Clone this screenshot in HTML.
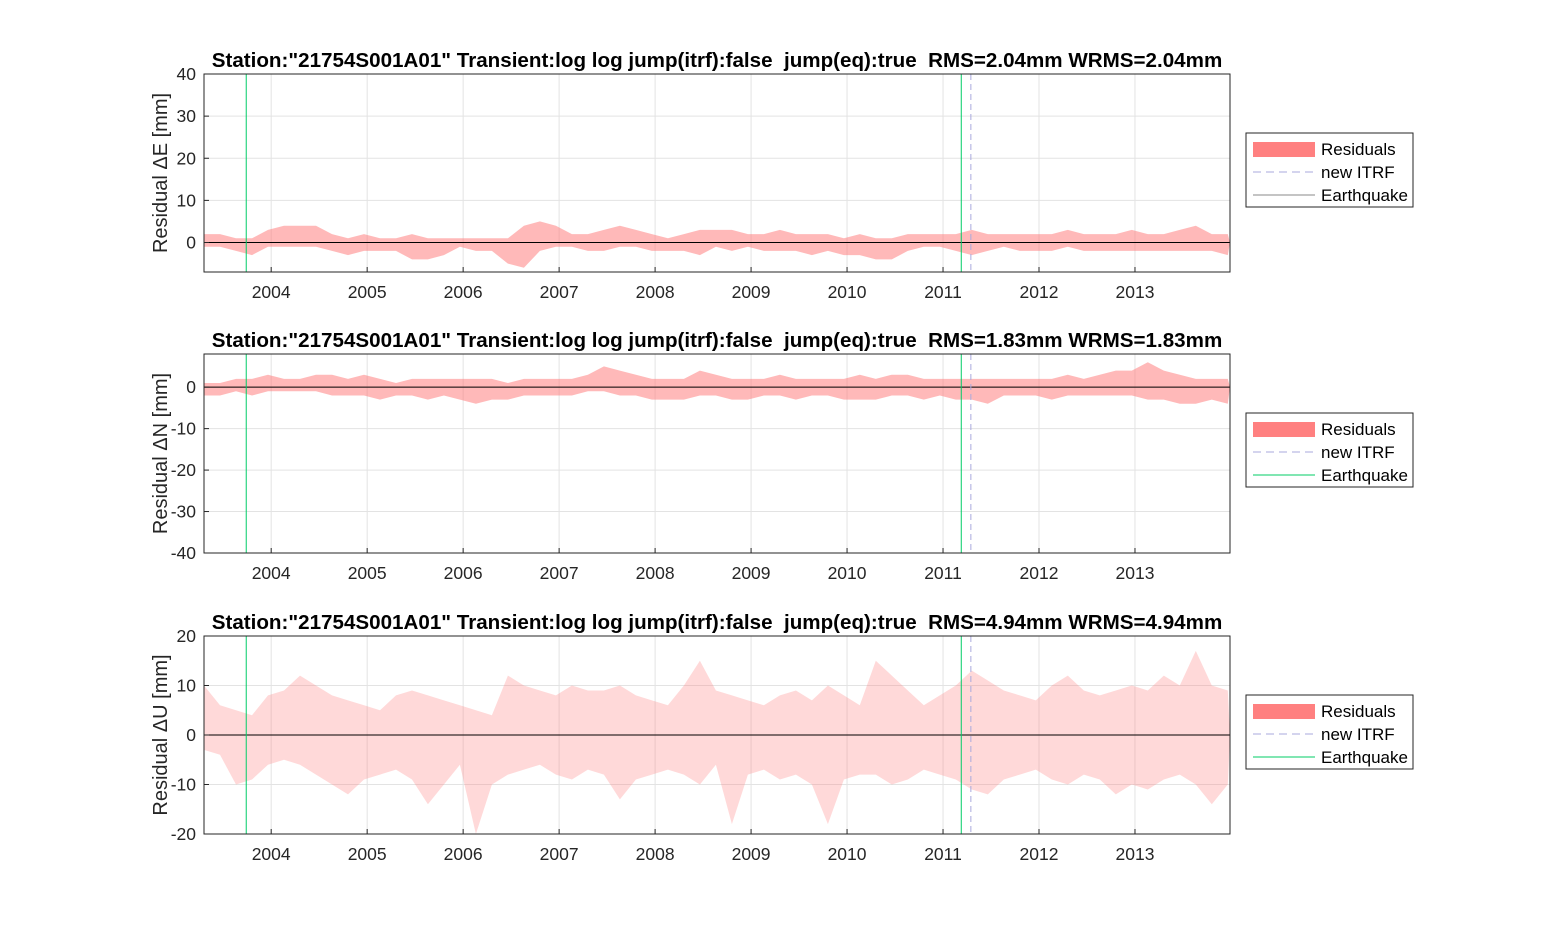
<!DOCTYPE html>
<html><head><meta charset="utf-8"><style>
html,body{margin:0;padding:0;background:#fff;}
svg{display:block;font-family:"Liberation Sans",Arial,sans-serif;}
text{white-space:pre;}
</style></head><body>
<svg id="fig" width="1563" height="938" viewBox="0 0 1563 938"></svg>
<script>
// ---- data ----
const xStart = 2003.3, xEnd = 2013.99;
const sampleStep = 1/6;
const yearTicks = [2004,2005,2006,2007,2008,2009,2010,2011,2012,2013];
const eqEvents = [2003.74, 2011.19];
const itrfEvents = [2011.29];
const titles = [
 'Station:"21754S001A01" Transient:log log jump(itrf):false  jump(eq):true  RMS=2.04mm WRMS=2.04mm',
 'Station:"21754S001A01" Transient:log log jump(itrf):false  jump(eq):true  RMS=1.83mm WRMS=1.83mm',
 'Station:"21754S001A01" Transient:log log jump(itrf):false  jump(eq):true  RMS=4.94mm WRMS=4.94mm'];
const yLabels = ['Residual \u0394E [mm]','Residual \u0394N [mm]','Residual \u0394U [mm]'];
const yTicksE = [0,10,20,30,40];
const yTicksN = [-40,-30,-20,-10,0];
const yTicksU = [-20,-10,0,10,20];
const eMax = [2,2,1,1,3,4,4,4,2,1,2,1,1,2,1,1,1,1,1,1,4,5,4,2,2,3,4,3,2,1,2,3,3,3,2,2,3,2,2,2,1,2,1,1,2,2,2,2,3,2,2,2,2,2,3,2,2,2,3,2,2,3,4,2,2];
const eMin = [-1,-1,-2,-3,-1,-1,-1,-1,-2,-3,-2,-2,-2,-4,-4,-3,-1,-2,-2,-5,-6,-2,-1,-1,-2,-2,-1,-1,-2,-2,-2,-3,-1,-2,-1,-2,-2,-2,-3,-2,-3,-3,-4,-4,-2,-1,-1,-2,-3,-2,-1,-2,-2,-2,-1,-2,-2,-2,-2,-2,-2,-2,-2,-2,-3];
const nMax = [1,1,2,2,3,2,2,3,3,2,3,2,1,2,2,2,2,2,2,1,2,2,2,2,3,5,4,3,2,2,2,4,3,2,2,2,3,2,2,2,2,3,2,3,3,2,2,2,2,2,2,2,2,2,3,2,3,4,4,6,4,3,2,2,2];
const nMin = [-2,-2,-1,-2,-1,-1,-1,-1,-2,-2,-2,-3,-2,-2,-3,-2,-3,-4,-3,-3,-2,-2,-2,-2,-1,-1,-2,-2,-3,-3,-3,-2,-2,-3,-3,-2,-2,-3,-2,-2,-3,-3,-3,-2,-2,-3,-2,-3,-3,-4,-2,-2,-2,-3,-2,-2,-2,-2,-2,-3,-3,-4,-4,-3,-4];
const uMax = [10,6,5,4,8,9,12,10,8,7,6,5,8,9,8,7,6,5,4,12,10,9,8,10,9,9,10,8,7,6,10,15,9,8,7,6,8,9,7,10,8,6,15,12,9,6,8,10,13,11,9,8,7,10,12,9,8,9,10,9,12,10,17,10,9];
const uMin = [-3,-4,-10,-9,-6,-5,-6,-8,-10,-12,-9,-8,-7,-9,-14,-10,-6,-20,-10,-8,-7,-6,-8,-9,-7,-8,-13,-9,-8,-7,-8,-10,-6,-18,-8,-7,-9,-8,-10,-18,-9,-8,-8,-10,-9,-7,-8,-9,-11,-12,-9,-8,-7,-9,-10,-8,-9,-12,-10,-11,-9,-8,-10,-14,-10];

const panels = [
 {top:74,bottom:272,ymin:-7,ymax:40,ticks:yTicksE,max:eMax,min:eMin,eqColor:'#00cc66',legEq:'#888888',op:0.55,name:'east'},
 {top:354,bottom:553,ymin:-40,ymax:8,ticks:yTicksN,max:nMax,min:nMin,eqColor:'#00cc66',legEq:'#00cc66',op:0.55,name:'north'},
 {top:636,bottom:834,ymin:-20,ymax:20,ticks:yTicksU,max:uMax,min:uMin,eqColor:'#00cc66',legEq:'#00cc66',op:0.3,name:'up'}];
const X0=204, X1=1230;
const svg=document.getElementById('fig');
const NS='http://www.w3.org/2000/svg';
function mk(tag,attrs,parent){const e=document.createElementNS(NS,tag);for(const k in attrs)e.setAttribute(k,attrs[k]);(parent||svg).appendChild(e);return e;}
const xs=t=>X0+(t-xStart)/(xEnd-xStart)*(X1-X0);

panels.forEach((p,pi)=>{
 const ys=v=>p.bottom-(v-p.ymin)/(p.ymax-p.ymin)*(p.bottom-p.top);
 const g=mk('g',{});
 
 
 mk('rect',{x:X0,y:p.top,width:X1-X0,height:p.bottom-p.top,fill:'#fff'},g);
 yearTicks.forEach(yr=>{mk('line',{x1:xs(yr),x2:xs(yr),y1:p.top,y2:p.bottom,stroke:'#e3e3e3','stroke-width':1},g);});
 p.ticks.forEach(v=>{mk('line',{x1:X0,x2:X1,y1:ys(v),y2:ys(v),stroke:'#e3e3e3','stroke-width':1},g);});
 const n=p.max.length;
 let d='M'+xs(xStart)+','+ys(0);
 for(let i=0;i<n;i++){d+=' L'+xs(Math.min(xStart+i*sampleStep,xEnd)).toFixed(1)+','+ys(p.max[i]).toFixed(1);}
 d+=' L'+xs(xEnd)+','+ys(0);
 for(let i=n-1;i>=0;i--){d+=' L'+xs(Math.min(xStart+i*sampleStep,xEnd)).toFixed(1)+','+ys(p.min[i]).toFixed(1);}
 d+=' Z';
 const area=mk('path',{d:d,fill:'#ff8080','fill-opacity':p.op,stroke:'none'},g);
 
 
 mk('line',{x1:X0,x2:X1,y1:ys(0),y2:ys(0),stroke:'#000','stroke-width':1},g);
 eqEvents.forEach(t=>{const l=mk('line',{x1:xs(t),x2:xs(t),y1:p.top,y2:p.bottom,stroke:p.eqColor,'stroke-width':1},g);
  
  });
 itrfEvents.forEach(t=>{const l=mk('line',{x1:xs(t),x2:xs(t),y1:p.top,y2:p.bottom,stroke:'#aaaadd','stroke-width':1,'stroke-dasharray':'6,4'},g);
  
  });
 mk('rect',{x:X0,y:p.top,width:X1-X0,height:p.bottom-p.top,fill:'none',stroke:'#262626','stroke-width':1},g);
 yearTicks.forEach(yr=>{
  mk('line',{x1:xs(yr),x2:xs(yr),y1:p.bottom,y2:p.bottom-5,stroke:'#262626'},g);
  const t=mk('text',{x:xs(yr),y:p.bottom+26,'text-anchor':'middle','font-size':17.5,fill:'#262626'},g);t.textContent=yr;
  
  });
 p.ticks.forEach(v=>{
  mk('line',{x1:X0,x2:X0+5,y1:ys(v),y2:ys(v),stroke:'#262626'},g);
  const t=mk('text',{x:X0-8,y:ys(v)+6,'text-anchor':'end','font-size':17.5,fill:'#262626'},g);t.textContent=v;
  
  });
 const yl=mk('text',{x:0,y:0,transform:'translate(167,'+((p.top+p.bottom)/2)+') rotate(-90)','text-anchor':'middle','font-size':20,fill:'#262626'},g);
 yl.textContent=yLabels[pi];
 
 
 const ti=mk('text',{x:717,y:p.top-7,'text-anchor':'middle','font-size':20.6,'font-weight':'bold',fill:'#000','xml:space':'preserve'},g);
 ti.textContent=titles[pi];
 
 
 const ly=p.top+59;
 const lg=mk('g',{},g);
 
 
 mk('rect',{x:1246,y:ly,width:167,height:74,fill:'#fff',stroke:'#262626','stroke-width':1},lg);
 mk('rect',{x:1253,y:ly+9,width:62,height:15,fill:'#ff8080'},lg);
 mk('line',{x1:1253,x2:1315,y1:ly+39,y2:ly+39,stroke:'#aaaadd','stroke-dasharray':'8,5'},lg);
 mk('line',{x1:1253,x2:1315,y1:ly+62,y2:ly+62,stroke:p.legEq},lg);
 ['Residuals','new ITRF','Earthquake'].forEach((s,i)=>{
  const t=mk('text',{x:1321,y:ly+22+i*23,'font-size':17,fill:'#000'},lg);t.textContent=s;
  
  });
});
</script>
</body></html>
